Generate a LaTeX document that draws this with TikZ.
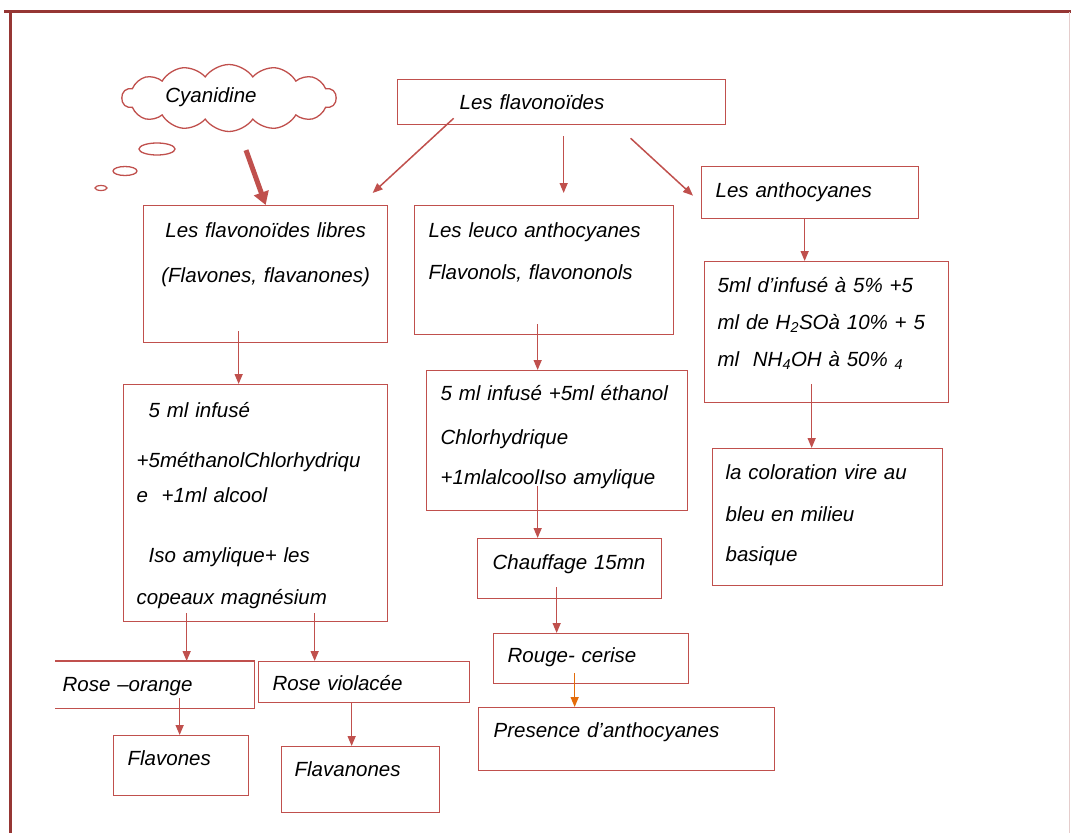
\documentclass[tikz,border=0pt]{standalone}
\usepackage{fontspec}
\setmainfont{Liberation Sans}
\usetikzlibrary{shapes.symbols,arrows.meta}
\definecolor{boxred}{HTML}{C0504D}
\definecolor{framered}{HTML}{963634}
\definecolor{arrorange}{HTML}{E46C0A}

\begin{document}
\begin{tikzpicture}[x=1pt,y=-1pt,
    box/.style={draw=boxred, line width=1.3pt, anchor=north west,
        inner ysep=0pt, align=left,
        font=\fontsize{20.5}{42}\selectfont\itshape},
    link/.style={draw=boxred, line width=1.5pt,
        -{Triangle[length=10pt,width=8pt]}}
]
\useasboundingbox (0,0) rectangle (1071,833);

% page frame
\draw[framered, line width=3pt] (4,11) -- (1071,11);
\draw[framered, line width=3pt] (10,10) -- (10,833);
\draw[framered!25, line width=1pt] (1069.5,12) -- (1069.5,833);

% cloud
\node[draw=boxred,
    line width=1.3pt,
    cloud,
    cloud puffs=14,
    cloud puff arc=110,
    aspect=3.8,
    minimum width=214pt,
    minimum height=60pt,
    inner sep=0pt,
    font=\fontsize{20.5}{24}\selectfont\itshape
] (cyan) at (229,98) {\raisebox{6pt}{Cyanidine}\hspace*{36pt}};
\draw[boxred, line width=1.3pt] (157,149) ellipse (18 and 6);
\draw[boxred, line width=1.3pt] (125,171) ellipse (12 and 4.5);
\draw[boxred, line width=1.2pt] (101,188) ellipse (6 and 2.5);

% top
\node[box,
    inner xsep=62pt, text width=204pt,
    text height=30pt, text depth=15pt
] (flav) at (397,79) {Les flavonoïdes};

% left column
\node[box,
    align=center,
    inner xsep=8pt, text width=228pt,
    text height=32pt, text depth=105pt
] (libres) at (143,205) {Les flavonoïdes libres\\[3pt](Flavones, flavanones)};

\node[box,
    inner xsep=13pt, text width=238pt,
    text height=33pt, text depth=204pt
] (meth) at (123,384) {\hspace*{12pt}5 ml infusé\\[8pt]
    +5méthanolChlorhydriqu\\[-7pt]
    e\ \ +1ml alcool\\[18pt]
    \hspace*{12pt}Iso amylique+ les\\
    copeaux magnésium};

\node[box,
    draw=none,
    inner xsep=7pt, text width=184pt,
    text height=30pt, text depth=16pt
] (ro) at (55,661) {Rose –orange};
\draw[boxred, line width=1.3pt] (ro.north west) -- (ro.north east)
    -- (ro.south east) -- (ro.south west);

\node[box,
    inner xsep=14pt, text width=183pt,
    text height=29pt, text depth=12pt
] (rv) at (258,661) {Rose violacée};

\node[box,
    inner xsep=14pt, text width=107pt,
    text height=30pt, text depth=30pt
] (flavones) at (113,735) {Flavones};

\node[box,
    inner xsep=13pt, text width=132pt,
    text height=30pt, text depth=36pt
] (flavanones) at (281,746) {Flavanones};

% middle column
\node[box,
    inner xsep=14pt, text width=231pt,
    text height=32pt, text depth=97pt
] (leuco) at (414,205) {Les leuco anthocyanes\\Flavonols, flavononols};

\node[box,
    inner xsep=14pt, text width=233pt,
    text height=30pt, text depth=110pt
] (ethan) at (426,370) {5 ml infusé +5ml éthanol\\[2pt]
    Chlorhydrique\\[-2pt]
    +1mlalcoolIso amylique};

\node[box,
    inner xsep=15pt, text width=154pt,
    text height=31pt, text depth=29pt
] (heat) at (477,538) {Chauffage 15mn};

\node[box,
    inner xsep=14pt, text width=167pt,
    text height=29pt, text depth=21pt
] (cherry) at (493,633) {Rouge- cerise};

\node[box,
    inner xsep=15pt, text width=266pt,
    text height=30pt, text depth=33pt
] (pres) at (478,707) {Presence d’anthocyanes};

% right column
\node[box,
    inner xsep=14pt, text width=189pt,
    text height=31pt, text depth=21pt
] (antho) at (701,166) {Les anthocyanes};

\node[box,
    inner xsep=13pt, text width=218pt,
    text height=31pt, text depth=110pt
] (acid) at (704,261) {5ml d’infusé à 5\% +5\\[-5pt]
    ml de H\textsubscript{2}SOà 10\% + 5\\[-5pt]
    ml\ \ NH\textsubscript{4}OH à 50\% \textsubscript{4}};

\node[box,
    inner xsep=13pt, text width=204pt,
    text height=31pt, text depth=106pt
] (color) at (712,448) {la coloration vire au\\
    bleu en milieu\\[-2pt]
    basique};

% arrows
\draw[boxred, line width=5pt, -{Triangle[length=13pt,width=15pt]}]
    ([xshift=17pt,yshift=-18pt]cyan.south) -- (libres.north);

\draw[link] ([xshift=-108pt,yshift=7pt]flav.south) -- ([xshift=107pt,yshift=12pt]libres.north);
\draw[link] ([xshift=2pt,yshift=-11pt]flav.south) -- ([xshift=19.5pt,yshift=12pt]leuco.north);
\draw[link] ([xshift=69pt,yshift=-13pt]flav.south) -- ([xshift=-8pt,yshift=-3pt]antho.west);

\draw[link] ([xshift=-27pt,yshift=12pt]libres.south) -- ([xshift=-17pt]meth.north);
\draw[link] ([xshift=-69pt,yshift=9pt]meth.south) -- ([xshift=32pt]ro.north);
\draw[link] ([xshift=59pt,yshift=9pt]meth.south) -- ([xshift=-49.5pt]rv.north);
\draw[link] ([xshift=25pt,yshift=10pt]ro.south) -- ([xshift=-1.5pt]flavones.north);
\draw[link] ([xshift=-12.5pt]rv.south) -- ([xshift=-9pt]flavanones.north);

\draw[link] ([xshift=-6.5pt,yshift=11pt]leuco.south) -- ([xshift=-19.5pt]ethan.north);
\draw[link] ([xshift=-19.5pt,yshift=25pt]ethan.south) -- ([xshift=-32pt]heat.north);
\draw[link] ([xshift=-13pt,yshift=12pt]heat.south) -- ([xshift=-34.5pt]cherry.north);
\draw[link, draw=arrorange] ([xshift=-16.5pt,yshift=11pt]cherry.south) -- ([xshift=-52pt]pres.north);

\draw[link] ([xshift=-5.5pt]antho.south) -- ([xshift=-22pt]acid.north);
\draw[link] ([xshift=-15pt,yshift=19pt]acid.south) -- ([xshift=-16pt]color.north);

\end{tikzpicture}
\end{document}
